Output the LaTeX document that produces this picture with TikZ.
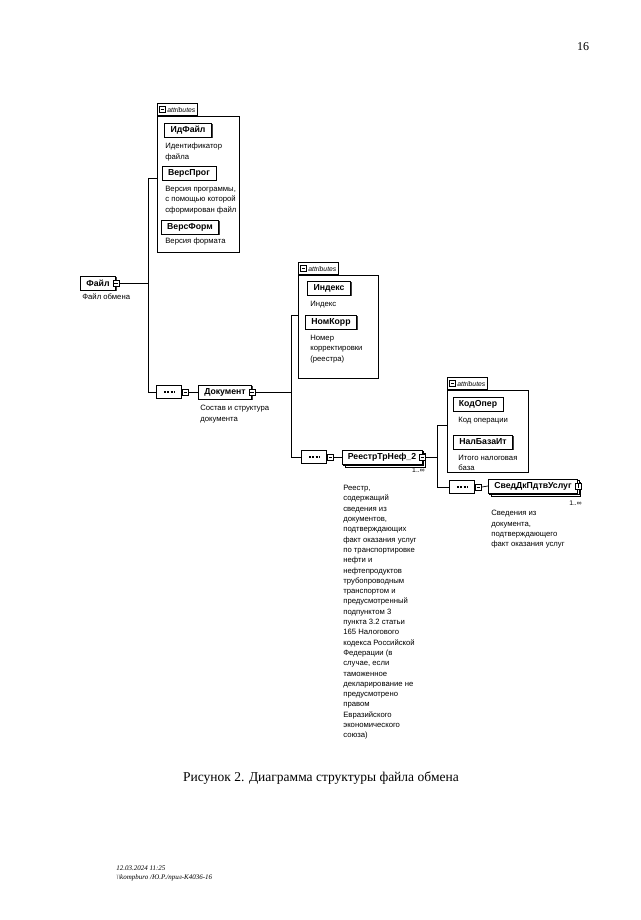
\documentclass[tikz,border=0pt]{standalone}
\usepackage{fontspec}
\setmainfont{Liberation Serif}
\newfontfamily\dsans{Liberation Sans}
\usetikzlibrary{shapes.misc,shadows}

\tikzset{
  elem/.style={draw, fill=white, font=\dsans\bfseries\fontsize{8.7}{9}\selectfont,
    inner xsep=6pt, inner ysep=2pt, minimum height=14pt,
    drop shadow={shadow xshift=1.3pt, shadow yshift=-1.3pt, fill=black!75, opacity=1}},
  multielem/.style={draw, fill=white, font=\dsans\bfseries\fontsize{8.7}{9}\selectfont,
    inner xsep=6pt, inner ysep=2pt, minimum height=14pt,
    double copy shadow={shadow xshift=1.5pt, shadow yshift=-1.5pt}},
  note/.style={anchor=north west, inner sep=0pt, align=left,
    font=\dsans\fontsize{7.7}{10.3}\selectfont},
  attrbox/.style={draw, anchor=north west, inner sep=0pt},
  attrtab/.style={draw, fill=white, anchor=south west, inner xsep=2pt, inner ysep=1pt,
    minimum height=12pt, font=\dsans\itshape\fontsize{6.8}{7}\selectfont},
  iconm/.style={draw, fill=white, minimum size=6pt, inner sep=0pt,
    path picture={\draw ([xshift=1.2pt]path picture bounding box.west)
      -- ([xshift=-1.2pt]path picture bounding box.east);}},
  iconp/.style={iconm,
    path picture={\draw ([yshift=1.2pt]path picture bounding box.south)
      -- ([yshift=-1.2pt]path picture bounding box.north);}},
  seq/.style={chamfered rectangle, chamfered rectangle xsep=2pt, draw, fill=white,
    minimum width=25pt, minimum height=13pt, inner sep=0pt,
    path picture={\draw[line width=1.4pt, dash pattern=on 2pt off 1.3pt]
      ([xshift=-5pt]path picture bounding box.center)
      -- ([xshift=5pt]path picture bounding box.center);}},
  mult/.style={font=\dsans\fontsize{6.8}{7}\selectfont, inner sep=0pt, anchor=east}
}

\begin{document}
\begin{tikzpicture}[x=1pt, y=-1pt, line width=0.7pt]
\useasboundingbox (0,0) rectangle (640,920);

\node[font=\fontsize{12}{14}\selectfont] (pnum) at (583,47) {16};

% root element
\node[elem] (fajl) at (98,283) {Файл};
\node[iconm] (fajlicon) at (fajl.east) {};
\node[note] (fajltxt) at (82,293) {Файл обмена};

% attributes of Файл
\node[attrbox, minimum width=82pt, minimum height=136pt] (attr1) at (157,116) {};
\node[attrtab] (attr1tab) at (attr1.north west) {\hspace{8pt}attributes};
\node[iconm] (attr1icon) at ([xshift=5.5pt]attr1tab.west) {};
\node[elem] (idfajl) at (188,130) {ИдФайл};
\node[note] (idfajltxt) at (165,143) {Идентификатор\\файла};
\node[elem] (versprog) at (189,173) {ВерсПрог};
\node[note] (versprogtxt) at (165,186) {Версия программы,\\с помощью которой\\сформирован файл};
\node[elem] (versform) at (190,227) {ВерсФорм};
\node[note] (versformtxt) at (165,238) {Версия формата};

\coordinate (j1) at (148,283);
\coordinate (j1top) at (148,178);
\coordinate (j1bot) at (148,392);
\draw (fajlicon.east) -- (j1);
\draw (j1top) -- (j1bot);
\draw (j1top) -- (j1top -| attr1.west);

% Документ
\node[seq] (seq1) at (169,392) {};
\node[iconm, anchor=west] (seq1icon) at ([xshift=0.3pt]seq1.east) {};
\draw (j1bot) -- (seq1.west);
\node[elem] (dok) at (225,392) {Документ};
\node[iconm] (dokicon) at (dok.east) {};
\draw (seq1icon.east) -- (dok.west);
\node[note] (doktxt) at (200,405) {Состав и структура\\документа};

% attributes of Документ
\node[attrbox, minimum width=80pt, minimum height=103pt] (attr2) at (298,275) {};
\node[attrtab] (attr2tab) at (attr2.north west) {\hspace{8pt}attributes};
\node[iconm] (attr2icon) at ([xshift=5.5pt]attr2tab.west) {};
\node[elem] (indeks) at (329,288) {Индекс};
\node[note] (indekstxt) at (310,301) {Индекс};
\node[elem] (nomkorr) at (331,322) {НомКорр};
\node[note] (nomkorrtxt) at (310,335) {Номер\\корректировки\\(реестра)};

\coordinate (j2) at (291,392);
\coordinate (j2top) at (291,315);
\coordinate (j2bot) at (291,457);
\draw (dokicon.east) -- (j2);
\draw (j2top) -- (j2bot);
\draw (j2top) -- (j2top -| attr2.west);

% РеестрТрНеф_2
\node[seq] (seq2) at (314,457) {};
\node[iconm, anchor=west] (seq2icon) at ([xshift=0.3pt]seq2.east) {};
\draw (j2bot) -- (seq2.west);
\node[multielem] (reestr) at (382,457) {РеестрТрНеф\_2};
\node[iconm] (reestricon) at (reestr.east) {};
\draw (seq2icon.east) -- (reestr.west);
\node[mult] (reestrmult) at (425,470) {1..∞};
\node[note] (reestrtxt) at (343,485) {Реестр,\\содержащий\\сведения из\\документов,\\подтверждающих\\факт оказания услуг\\по транспортировке\\нефти и\\нефтепродуктов\\трубопроводным\\транспортом и\\предусмотренный\\подпунктом 3\\пункта 3.2 статьи\\165 Налогового\\кодекса Российской\\Федерации (в\\случае, если\\таможенное\\декларирование не\\предусмотрено\\правом\\Евразийского\\экономического\\союза)};

% attributes of РеестрТрНеф_2
\node[attrbox, minimum width=81pt, minimum height=82pt] (attr3) at (447,390) {};
\node[attrtab] (attr3tab) at (attr3.north west) {\hspace{8pt}attributes};
\node[iconm] (attr3icon) at ([xshift=5.5pt]attr3tab.west) {};
\node[elem] (kodoper) at (478,404) {КодОпер};
\node[note] (kodopertxt) at (458,417) {Код операции};
\node[elem] (nalbaza) at (483,442) {НалБазаИт};
\node[note] (nalbazatxt) at (458,455) {Итого налоговая\\база};

\coordinate (j3) at (437,457);
\coordinate (j3top) at (437,425);
\coordinate (j3bot) at (437,487);
\draw (reestricon.east) -- (j3);
\draw (j3top) -- (j3bot);
\draw (j3top) -- (j3top -| attr3.west);

% СведДкПдтвУслуг
\node[seq] (seq3) at (462,487) {};
\node[iconm, anchor=west] (seq3icon) at ([xshift=0.3pt]seq3.east) {};
\draw (j3bot) -- (seq3.west);
\node[multielem] (sved) at (533,486) {СведДкПдтвУслуг};
\node[iconp] (svedicon) at (sved.east) {};
\draw (seq3icon.east) -- (sved.west);
\node[mult] (svedmult) at (582,503) {1..∞};
\node[note] (svedtxt) at (491,510) {Сведения из\\документа,\\подтверждающего\\факт оказания услуг};

% caption and footer
\node[font=\fontsize{13.5}{16}\selectfont] (caption) at (321,778) {Рисунок 2. Диаграмма структуры файла обмена};
\node[anchor=north west, inner sep=0pt, align=left, font=\itshape\fontsize{7}{9.5}\selectfont] (foot) at (116,865) {12.03.2024 11:25\\\textbackslash\textbackslash kompburo /Ю.Р./прил-К4036-16};
\end{tikzpicture}
\end{document}
